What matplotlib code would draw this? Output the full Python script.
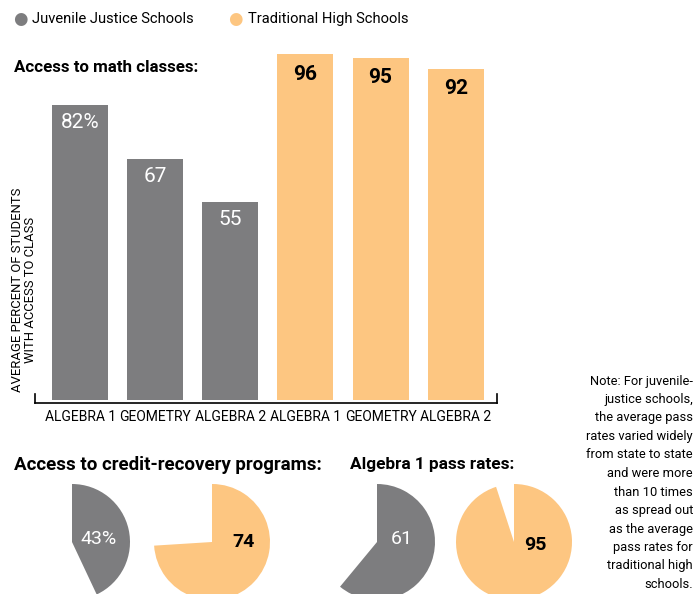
import matplotlib
matplotlib.use("Agg")
import matplotlib.pyplot as plt

# Données
classes = ["ALGEBRA 1", "GEOMETRY", "ALGEBRA 2"]
juvenile_access = [82, 67, 55]
traditional_access = [96, 95, 92]
juvenile_labels = ["82%", "67", "55"]
traditional_labels = ["96", "95", "92"]
credit_recovery = [43, 74]
credit_labels = ["43%", "74"]
pass_rates = [61, 95]
pass_labels = ["61", "95"]

gris = "#7d7d7f"
orange = "#fdc681"
plt.rcParams["font.family"] = ["Roboto", "DejaVu Sans"]

note_lines = ["Note: For juvenile-", "justice schools,", "the average pass", "rates varied widely",
              "from state to state", "and were more", "than 10 times", "as spread out",
              "as the average", "pass rates for", "traditional high", "schools."]

fig = plt.figure(figsize=(6.96, 5.94), dpi=100)
W, H = 696, 594

# Graphe en barres
ax = fig.add_axes([35 / W, 1 - 403 / H, (497 - 35) / W, (403 - 40) / H])
x = list(range(6))
valeurs = juvenile_access + traditional_access
couleurs = [gris] * 3 + [orange] * 3
etiquettes = juvenile_labels + traditional_labels
ax.bar(x, valeurs, width=0.745, color=couleurs, bottom=0)
for i, (v, e) in enumerate(zip(valeurs, etiquettes)):
    if i < 3:
        ax.text(i, v - 4.8, e, ha="center", va="center", color="white", fontsize=15)
    else:
        ax.text(i, v - 5.5, e, ha="center", va="center", color="black", fontsize=15, fontweight="bold")
ax.set_xlim(-0.6, 5.55)
ax.set_ylim(-0.83, 100)
ax.set_xticks(x)
ax.set_xticklabels(classes * 2, fontsize=10)
ax.tick_params(axis="x", length=0, pad=5)
ax.set_yticks([])
for s in ["top", "left", "right"]:
    ax.spines[s].set_visible(False)
ax.spines["bottom"].set_linewidth(1.2)
ax.plot([0, 0], [0, 0.025], transform=ax.transAxes, color="black", lw=1.2, clip_on=False)
ax.plot([1, 1], [0, 0.025], transform=ax.transAxes, color="black", lw=1.2, clip_on=False)

fig.text(24 / W, 1 - 290 / H, "AVERAGE PERCENT OF STUDENTS\nWITH ACCESS TO CLASS", rotation=90,
         ha="center", va="center", fontsize=9.4, linespacing=0.9)

# Légende
fig.text(13 / W, 1 - 19 / H, "\u25cf", color=gris, fontsize=12, ha="left", va="center", family="DejaVu Sans")
fig.text(32 / W, 1 - 19 / H, "Juvenile Justice Schools", fontsize=10.6, va="center")
fig.text(228 / W, 1 - 19 / H, "\u25cf", color=orange, fontsize=12, ha="left", va="center", family="DejaVu Sans")
fig.text(248 / W, 1 - 19 / H, "Traditional High Schools", fontsize=10.6, va="center")

# Titres
fig.text(14 / W, 1 - 68 / H, "Access to math classes:", fontsize=12.2, fontweight="bold", va="center")
fig.text(14 / W, 1 - 465 / H, "Access to credit-recovery programs:", fontsize=13.5, fontweight="bold", va="center")
fig.text(350 / W, 1 - 465 / H, "Algebra 1 pass rates:", fontsize=12.4, fontweight="bold", va="center")

# Note, une ligne à la fois
for i, ligne in enumerate(note_lines):
    fig.text(693 / W, 1 - (381 + i * 18.5) / H, ligne, ha="right", va="center", fontsize=9.3)

# Camemberts
r = 58
pies = [
    (72, credit_recovery[0], credit_labels[0], gris, "white", (0.45, 0.05)),
    (212, credit_recovery[1], credit_labels[1], orange, "black", (0.55, 0.0)),
    (377, pass_rates[0], pass_labels[0], gris, "white", (0.42, 0.05)),
    (514, pass_rates[1], pass_labels[1], orange, "black", (0.37, -0.05)),
]
for cx, v, lab, c, tc, pos in pies:
    pa = fig.add_axes([(cx - r) / W, 1 - (542 + r) / H, 2 * r / W, 2 * r / H])
    pa.pie([v, 100 - v], colors=[c, "none"], startangle=90, counterclock=False,
           wedgeprops={"linewidth": 0})
    pa.set_xlim(-1, 1)
    pa.set_ylim(-1, 1)
    poids = "bold" if tc == "black" else "normal"
    pa.text(pos[0], pos[1], lab, color=tc, fontsize=14, fontweight=poids, ha="center", va="center")

fig.savefig("out.png", dpi=100)
